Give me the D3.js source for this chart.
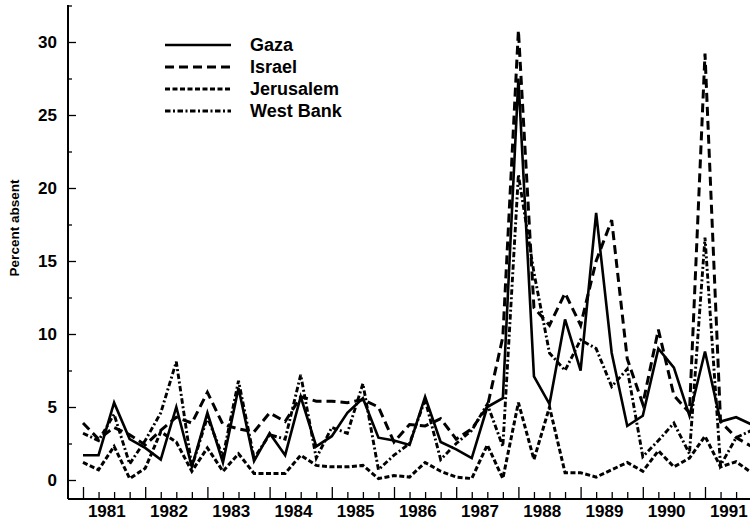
<!DOCTYPE html>
<html>
<head>
<meta charset="utf-8">
<script src="https://cdn.jsdelivr.net/npm/d3@7"></script>
<style>
  body { margin: 0; background: #fff; }
  text { font-family: "Liberation Sans", Arial, sans-serif; fill: #000; }
</style>
</head>
<body>
<div id="view"></div>
<script>
var width = 750, height = 526;

// quarterly observations, index 0 = first quarter shown
var years = [1981, 1982, 1983, 1984, 1985, 1986, 1987, 1988, 1989, 1990, 1991];
var gaza = [1.7,1.7,5.3,2.8,2.2,1.4,5.0,0.9,4.6,1.2,6.3,1.3,3.2,1.7,5.7,2.3,3.0,4.6,5.6,2.9,2.7,2.4,5.7,2.6,2.1,1.5,5.0,5.6,27.5,7.1,5.2,11.0,7.5,18.3,8.7,3.7,4.4,9.0,7.7,4.4,8.8,4.0,4.3,3.8];
var israel = [3.9,2.8,3.6,3.1,2.4,3.4,4.3,3.9,6.0,3.8,3.5,3.3,4.6,4.0,5.7,5.4,5.4,5.3,5.5,5.0,2.6,3.8,3.7,4.2,2.8,3.5,5.0,9.8,30.8,11.8,10.6,12.8,10.6,15.0,17.8,8.3,5.2,10.3,5.8,4.6,29.2,4.0,2.9,2.3];
var jerusalem = [1.2,0.7,2.3,0.1,0.8,3.3,2.6,0.6,2.2,0.6,1.8,0.45,0.45,0.45,1.7,1.0,0.9,0.9,1.0,0.1,0.3,0.2,1.2,0.6,0.2,0.1,2.4,0.1,5.3,1.4,5.0,0.5,0.5,0.2,0.7,1.2,0.6,2.0,0.9,1.5,3.0,0.9,1.25,0.5];
var westBank = [3.2,2.7,4.5,1.1,2.7,4.6,8.1,0.9,4.3,1.6,6.8,1.5,3.1,2.8,7.2,1.5,3.6,3.2,6.6,0.7,1.7,2.5,5.5,1.4,2.5,3.4,5.2,2.3,20.9,14.2,8.7,7.5,9.6,9.0,6.4,7.6,1.6,2.7,3.9,1.8,16.6,1.0,2.9,3.4];
var yTicks = [0, 5, 10, 15, 20, 25, 30];

var series = [
	{ name: "Gaza", values: gaza, dash: null, w: 2.6 },
	{ name: "Israel", values: israel, dash: "9,5", w: 3 },
	{ name: "Jerusalem", values: jerusalem, dash: "5,2.5", w: 3 },
	{ name: "West Bank", values: westBank, dash: "5.5,2.5,2,2.5", w: 2.9 }
];

var svg = d3.select("#view").append("svg")
	.attr("width", width)
	.attr("height", height);

var x = d3.scaleLinear().domain([0, 43]).range([83, 83 + 43 * 15.55]);
var y = d3.scaleLinear().domain([0, 32.5]).range([480, 5.5]);

var axisX = 68, axisY = 499;

// y axis: minor ticks every 2.5, labelled ticks every 5
svg.append("g")
	.attr("transform", "translate(" + axisX + ",0)")
	.call(d3.axisLeft(y).tickValues(d3.range(2.5, 33, 5)).tickSize(-4).tickFormat(""))
	.call(function(g) { g.select(".domain").remove(); })
	.selectAll("line").attr("stroke-width", 1.3);

svg.append("g")
	.attr("transform", "translate(" + axisX + ",0)")
	.call(d3.axisLeft(y).tickValues(yTicks).tickSize(-8).tickPadding(11))
	.call(function(g) { g.select(".domain").remove(); })
	.call(function(g) {
		g.selectAll("line").attr("stroke-width", 1.3);
		g.selectAll("text").attr("font-size", 17).attr("font-weight", "bold");
	});

// x axis: a tick per quarter, a taller one each year
svg.append("g")
	.attr("transform", "translate(0," + axisY + ")")
	.call(d3.axisBottom(x).tickValues(d3.range(0, 44)).tickFormat(""))
	.call(function(g) { g.select(".domain").remove(); })
	.selectAll(".tick line")
	.attr("y2", function(d) { return d % 4 == 0 ? -12 : -7; })
	.attr("stroke-width", 1.3);

svg.append("g")
	.attr("transform", "translate(0," + axisY + ")")
	.call(d3.axisBottom(x).tickValues(years.map(function(d, i) { return 1.5 + 4 * i; }))
		.tickSize(0).tickPadding(6)
		.tickFormat(function(d, i) { return years[i]; }))
	.call(function(g) {
		g.select(".domain").remove();
		g.selectAll("text").attr("font-size", 17).attr("font-weight", "bold");
	});

// axis lines
svg.append("line")
	.attr("x1", axisX).attr("x2", axisX)
	.attr("y1", 5).attr("y2", axisY)
	.attr("stroke", "#000").attr("stroke-width", 2);
svg.append("line")
	.attr("x1", axisX).attr("x2", width)
	.attr("y1", axisY).attr("y2", axisY)
	.attr("stroke", "#000").attr("stroke-width", 2);

svg.append("text")
	.attr("transform", "translate(19,228) rotate(-90)")
	.attr("text-anchor", "middle")
	.attr("font-size", 13.5)
	.attr("font-weight", "bold")
	.text("Percent absent");

var line = d3.line()
	.x(function(d, i) { return x(i); })
	.y(function(d) { return y(d); });

svg.selectAll(".series")
	.data(series).enter()
	.append("path")
	.attr("class", "series")
	.attr("d", function(d) { return line(d.values); })
	.attr("fill", "none")
	.attr("stroke", "#000")
	.attr("stroke-width", function(d) { return d.w; })
	.attr("stroke-dasharray", function(d) { return d.dash; })
	.attr("stroke-linejoin", "miter");

// legend
var legend = svg.selectAll(".legend")
	.data(series).enter()
	.append("g")
	.attr("class", "legend")
	.attr("transform", function(d, i) { return "translate(0," + (45 + i * 22) + ")"; });

legend.append("line")
	.attr("x1", 165).attr("x2", 231)
	.attr("stroke", "#000")
	.attr("stroke-width", function(d) { return d.w; })
	.attr("stroke-dasharray", function(d) { return d.dash; });

legend.append("text")
	.attr("x", 250)
	.attr("dy", "0.35em")
	.attr("font-size", 18)
	.attr("font-weight", "bold")
	.text(function(d) { return d.name; });
</script>
</body>
</html>
